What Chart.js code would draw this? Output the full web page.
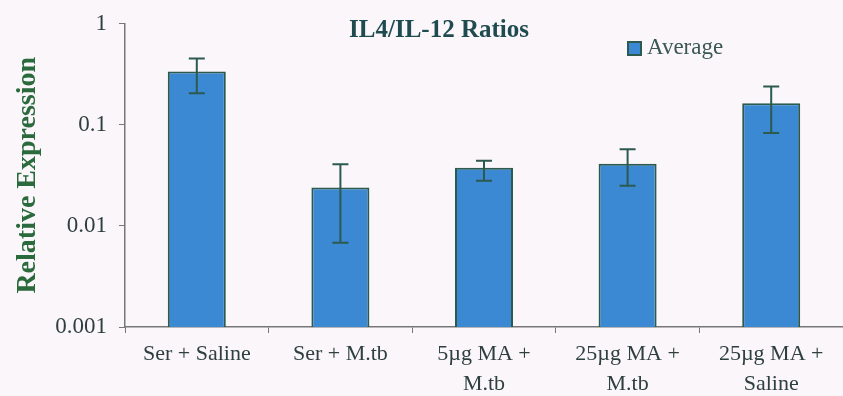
<!DOCTYPE html>
<html>
<head>
<meta charset="utf-8">
<script src="https://cdn.jsdelivr.net/npm/chart.js@4/dist/chart.umd.min.js"></script>
<style>
  html, body { margin: 0; padding: 0; background: #faf6f9; }
  #wrap { width: 843px; height: 396px; position: relative; }
</style>
</head>
<body>
<div id="wrap"><canvas id="ratioChart"></canvas></div>
<script>
// Data
const groups = [
  'Ser + Saline',
  'Ser + M.tb',
  ['5µg MA +', 'M.tb'],
  ['25µg MA +', 'M.tb'],
  ['25µg MA +', 'Saline']
];
const average = [0.336, 0.0239, 0.0375, 0.041, 0.163];
const errHigh = [0.45, 0.0407, 0.044, 0.057, 0.239];
const errLow = [0.204, 0.0068, 0.0279, 0.0249, 0.0826];
const yTicks = [0.001, 0.01, 0.1, 1];

const serif = "'Liberation Serif', 'Times New Roman', serif";
const barBlue = '#3b88d3';
const darkLine = '#2c5a4e';

// error bars drawn on top of the bars
const errorBars = {
  id: 'errorBars',
  afterDatasetsDraw(chart) {
    const ctx = chart.ctx;
    const y = chart.scales.y;
    const meta = chart.getDatasetMeta(0);
    ctx.save();
    ctx.strokeStyle = darkLine;
    ctx.lineWidth = 2;
    meta.data.forEach((bar, i) => {
      const top = y.getPixelForValue(errHigh[i]);
      const bot = y.getPixelForValue(errLow[i]);
      ctx.beginPath();
      ctx.moveTo(bar.x, top); ctx.lineTo(bar.x, bot);
      ctx.moveTo(bar.x - 8, top); ctx.lineTo(bar.x + 8, top);
      ctx.moveTo(bar.x - 8, bot); ctx.lineTo(bar.x + 8, bot);
      ctx.stroke();
    });
    ctx.restore();
  }
};

// title and legend placed where the original had them
const titleAndKey = {
  id: 'titleAndKey',
  afterDraw(chart) {
    const ctx = chart.ctx;
    ctx.save();
    ctx.fillStyle = '#1f4b50';
    ctx.font = 'bold 25px ' + serif;
    ctx.textAlign = 'center';
    ctx.textBaseline = 'middle';
    ctx.fillText('IL4/IL-12 Ratios', 439, 31);

    ctx.fillStyle = barBlue;
    ctx.strokeStyle = darkLine;
    ctx.lineWidth = 2;
    ctx.fillRect(628, 42, 13, 13);
    ctx.strokeRect(628, 42, 13, 13);
    ctx.fillStyle = '#3b5753';
    ctx.font = '23px ' + serif;
    ctx.textAlign = 'left';
    ctx.fillText('Average', 647, 48);
    ctx.restore();
  }
};

new Chart(document.getElementById('ratioChart'), {
  type: 'bar',
  data: {
    labels: groups,
    datasets: [{
      label: 'Average',
      data: average,
      backgroundColor: barBlue,
      borderColor: darkLine,
      borderWidth: 2,
      barPercentage: 0.404,
      categoryPercentage: 1
    }]
  },
  options: {
    responsive: true,
    maintainAspectRatio: false,
    animation: false,
    layout: { padding: { top: 21, right: 0, bottom: 0, left: 0 } },
    plugins: {
      legend: { display: false },
      title: { display: false },
      tooltip: { enabled: false }
    },
    scales: {
      x: {
        grid: { display: true, drawOnChartArea: false, drawTicks: true, tickLength: 6, color: '#777' },
        border: { display: true, color: '#777', width: 1.5 },
        ticks: {
          color: '#2e3f3e',
          font: { family: serif, size: 22, lineHeight: 1.36 },
          padding: 6,
          maxRotation: 0,
          autoSkip: false
        },
        afterFit(scale) { scale.height = 69; }
      },
      y: {
        type: 'logarithmic',
        min: 0.001,
        max: 1,
        afterBuildTicks(scale) {
          scale.ticks = yTicks.map(v => ({ value: v }));
        },
        grid: { display: true, drawOnChartArea: false, drawTicks: true, tickLength: 6, color: '#777' },
        border: { display: true, color: '#777', width: 1.5 },
        ticks: {
          color: '#2e3f3e',
          font: { family: serif, size: 23, lineHeight: 1 },
          padding: 12,
          callback: v => String(v)
        },
        title: {
          display: true,
          text: 'Relative Expression',
          color: '#2a6a3c',
          font: { family: serif, size: 28, weight: 'bold' },
          padding: { top: 11, bottom: 0 }
        },
        afterFit(scale) { scale.width = 125; }
      }
    }
  },
  plugins: [errorBars, titleAndKey]
});
</script>
</body>
</html>
